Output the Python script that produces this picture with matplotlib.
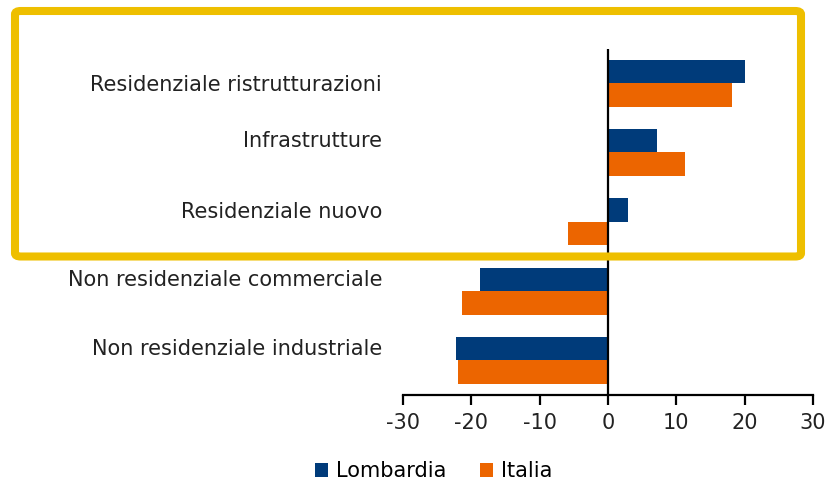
import matplotlib.pyplot as plt
from matplotlib.patches import FancyBboxPatch
from matplotlib.transforms import ScaledTranslation
import numpy as np

plt.rcParams['font.family'] = ['DejaVu Sans']

categories = ["Residenziale ristrutturazioni", "Infrastrutture", "Residenziale nuovo",
              "Non residenziale commerciale", "Non residenziale industriale"]
lombardia = [20.0, 7.1, 2.9, -18.8, -22.3]
italia = [18.1, 11.3, -5.9, -21.3, -21.9]
xticks = [-30, -20, -10, 0, 10, 20, 30]

blue = "#003B7A"
orange = "#EC6500"
yellow = "#EEBF00"
fs = 15

fig = plt.figure(figsize=(8.28, 4.86), dpi=100)
ax = fig.add_axes([0.4867, 0.1872, 0.4952, 0.7130])

n = len(categories)
pos = np.arange(n)[::-1]  # first category on top
h = 0.34
ax.barh(pos + h / 2, lombardia, height=h, color=blue, label="Lombardia")
ax.barh(pos - h / 2, italia, height=h, color=orange, label="Italia")

ax.axvline(0, color="black", lw=1.6)
ax.set_xlim(-30, 30)
ax.set_ylim(-0.5, n - 0.5)
ax.set_xticks(xticks)
ax.set_xticklabels([str(t) for t in xticks], fontsize=fs, color="#222222")
ax.tick_params(axis="x", direction="out", length=7, width=1.6, pad=6)

ax.set_yticks(pos)
ax.set_yticklabels(categories, fontsize=fs, color="#222222")
ax.tick_params(axis="y", length=0, pad=15)
for spine in ["left", "right", "top"]:
    ax.spines[spine].set_visible(False)
ax.spines["bottom"].set_linewidth(1.6)

# labels sit a little above the bar pairs (except the first)
shifts = [0, 13, 12, 13, 13]
for lab, s in zip(ax.get_yticklabels(), shifts):
    lab.set_transform(lab.get_transform() + ScaledTranslation(0, s / 100, fig.dpi_scale_trans))

# legend at the bottom
leg = fig.legend(loc="center", bbox_to_anchor=(0.524, 0.03), ncol=2, frameon=False,
                 fontsize=fs, handlelength=0.6, handleheight=0.6, handletextpad=0.4,
                 columnspacing=1.6)

# yellow highlight box round the top three categories
box = FancyBboxPatch((15 / 828, 1 - 256.5 / 486), (801 - 15) / 828, (256.5 - 11) / 486,
                     boxstyle="round,pad=0,rounding_size=0.007", transform=fig.transFigure,
                     fill=False, edgecolor=yellow, linewidth=5.8, zorder=10)
fig.patches.append(box)

fig.savefig("out.png", dpi=100)
